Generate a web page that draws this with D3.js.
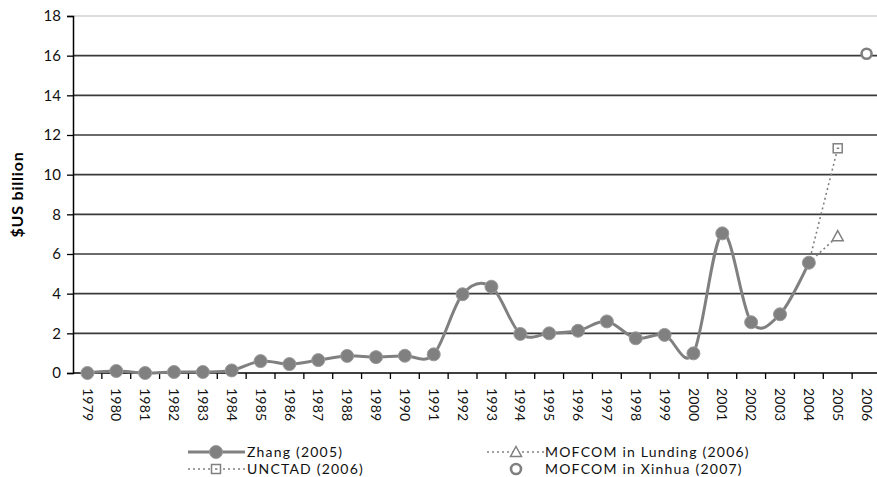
<!DOCTYPE html>
<html>
<head>
<meta charset="utf-8">
<script src="https://cdn.jsdelivr.net/npm/d3@7"></script>
<style>
  body { margin: 0; background: #fff; }
  svg { font-family: Lato, "Open Sans", sans-serif; }
</style>
</head>
<body>
<svg id="chart" width="877" height="477"></svg>
<script>
const years = d3.range(1979, 2007).map(String)
const yTicks = [0, 2, 4, 6, 8, 10, 12, 14, 16, 18]

// Zhang (2005), 1979-2004
const zhang = [0.0, 0.1, 0.0, 0.05, 0.05, 0.13, 0.6, 0.45, 0.65, 0.86, 0.8, 0.87, 0.94,
  3.97, 4.35, 1.97, 2.0, 2.13, 2.6, 1.75, 1.92, 0.99, 7.04, 2.56, 2.96, 5.56]
const unctadYears = ['2004', '2005']
const unctad = [5.56, 11.33]
const lundingYears = ['2004', '2005']
const lunding = [5.56, 6.9]
const xinhuaYears = ['2006']
const xinhua = [16.1]

const grey = '#808080'
const margin = {top: 16, left: 73}
const width = 881

const svg = d3.select('#chart')

const x = d3.scaleBand()
  .domain(years)
  .range([margin.left, width])
const y = d3.scaleLinear()
  .domain([0, 18])
  .range([373, margin.top])
const cx = d => x(d) + x.bandwidth() / 2

// gridlines
svg.append('g')
  .selectAll('line')
  .data(yTicks.filter(d => d > 0))
  .enter()
  .append('line')
  .attr('x1', margin.left)
  .attr('x2', width)
  .attr('y1', d => y(d))
  .attr('y2', d => y(d))
  .attr('stroke', d => d === 18 ? '#d0d0d0' : '#3a3a3a')
  .attr('stroke-width', 1.6)

// y axis
const yAxis = svg.append('g')
  .attr('transform', `translate(${margin.left},0)`)
  .call(d3.axisLeft(y).tickValues(yTicks).tickSize(6).tickPadding(6))
yAxis.select('.domain').attr('stroke', '#000').attr('stroke-width', 1.5)
yAxis.selectAll('.tick line').attr('stroke', '#000').attr('stroke-width', 1.3)
yAxis.selectAll('text')
  .attr('font-size', 15)
  .attr('font-family', 'Lato, sans-serif')
  .attr('fill', '#111')

// x axis: ticks between categories
const xAxis = svg.append('g')
  .attr('transform', `translate(0,${y(0)})`)
xAxis.append('line')
  .attr('x1', margin.left).attr('x2', width)
  .attr('stroke', '#000').attr('stroke-width', 1.5)
xAxis.selectAll('.tk')
  .data(years)
  .enter()
  .append('line')
  .attr('class', 'tk')
  .attr('x1', d => x(d) + x.step())
  .attr('x2', d => x(d) + x.step())
  .attr('y1', 0).attr('y2', 6)
  .attr('stroke', '#000').attr('stroke-width', 1.3)
xAxis.selectAll('text')
  .data(years)
  .enter()
  .append('text')
  .attr('transform', d => `translate(${cx(d)},15) rotate(90)`)
  .attr('dy', '0.35em')
  .attr('font-size', 14)
  .attr('letter-spacing', 0.2)
  .attr('fill', '#111')
  .text(d => d)

// y label
svg.append('text')
  .attr('transform', `translate(17,${(y(0) + y(18)) / 2}) rotate(-90)`)
  .attr('text-anchor', 'middle')
  .attr('dy', '0.35em')
  .attr('font-size', 16)
  .attr('letter-spacing', 0.8)
  .attr('font-weight', 'bold')
  .text('$US billion')

const smooth = d3.line()
  .x(d => cx(d[0]))
  .y(d => y(d[1]))
  .curve(d3.curveCardinal.tension(0))

// dotted series
svg.append('path')
  .datum(d3.zip(unctadYears, unctad))
  .attr('fill', 'none').attr('stroke', grey).attr('stroke-width', 1.6)
  .attr('stroke-dasharray', '2,3')
  .attr('d', smooth)
svg.append('path')
  .datum(d3.zip(lundingYears, lunding))
  .attr('fill', 'none').attr('stroke', grey).attr('stroke-width', 1.6)
  .attr('stroke-dasharray', '2,3')
  .attr('d', smooth)

// Zhang line
const zhangData = d3.zip(years.slice(0, zhang.length), zhang)
svg.append('path')
  .datum(zhangData)
  .attr('fill', 'none').attr('stroke', grey).attr('stroke-width', 3)
  .attr('d', smooth)
svg.selectAll('.zpt')
  .data(zhangData)
  .enter()
  .append('circle')
  .attr('class', 'zpt')
  .attr('cx', d => cx(d[0]))
  .attr('cy', d => y(d[1]))
  .attr('r', 6.5)
  .attr('fill', grey)
  .attr('stroke', '#9a9a9a').attr('stroke-width', 1)

// markers for other series
const drawSquare = (g, px, py) => {
  g.append('rect')
    .attr('x', px - 4.5).attr('y', py - 4.5)
    .attr('width', 9).attr('height', 9)
    .attr('fill', '#fff').attr('stroke', grey).attr('stroke-width', 1.5)
  g.append('line')
    .attr('x1', px - 1).attr('x2', px + 1.5).attr('y1', py).attr('y2', py)
    .attr('stroke', grey).attr('stroke-width', 1.5)
}
const drawTriangle = (g, px, py) => {
  g.append('path')
    .attr('d', `M${px},${py - 5.5}L${px + 5.5},${py + 4.5}L${px - 5.5},${py + 4.5}Z`)
    .attr('fill', '#fff').attr('stroke', grey).attr('stroke-width', 1.5)
}
const drawRing = (g, px, py) => {
  g.append('circle')
    .attr('cx', px).attr('cy', py).attr('r', 5)
    .attr('fill', '#fff').attr('stroke', grey).attr('stroke-width', 2.6)
}

drawSquare(svg, cx(unctadYears[1]), y(unctad[1]))
drawTriangle(svg, cx(lundingYears[1]), y(lunding[1]))
xinhua.forEach((v, i) => drawRing(svg, cx(xinhuaYears[i]), y(v)))

// legend
const legend = svg.append('g')
  .attr('font-size', 14)
  .attr('letter-spacing', 1.2)
  .attr('fill', '#111')
const row1 = 452, row2 = 469
legend.append('line')
  .attr('x1', 188).attr('x2', 245).attr('y1', row1).attr('y2', row1)
  .attr('stroke', grey).attr('stroke-width', 3)
legend.append('circle')
  .attr('cx', 216).attr('cy', row1).attr('r', 6.5)
  .attr('fill', grey).attr('stroke', '#9a9a9a')
legend.append('text').attr('x', 247).attr('y', row1).attr('dy', '0.35em').text('Zhang (2005)')

legend.append('line')
  .attr('x1', 188).attr('x2', 245).attr('y1', row2).attr('y2', row2)
  .attr('stroke', grey).attr('stroke-width', 1.4).attr('stroke-dasharray', '2,3')
drawSquare(legend, 216, row2)
legend.append('text').attr('x', 247).attr('y', row2).attr('dy', '0.35em').text('UNCTAD (2006)')

legend.append('line')
  .attr('x1', 487).attr('x2', 544).attr('y1', row1).attr('y2', row1)
  .attr('stroke', grey).attr('stroke-width', 1.4).attr('stroke-dasharray', '2,3')
drawTriangle(legend, 516, row1)
legend.append('text').attr('x', 545).attr('y', row1).attr('dy', '0.35em').text('MOFCOM in Lunding (2006)')

drawRing(legend, 516, row2)
legend.append('text').attr('x', 545).attr('y', row2).attr('dy', '0.35em').text('MOFCOM in Xinhua (2007)')
</script>
</body>
</html>
